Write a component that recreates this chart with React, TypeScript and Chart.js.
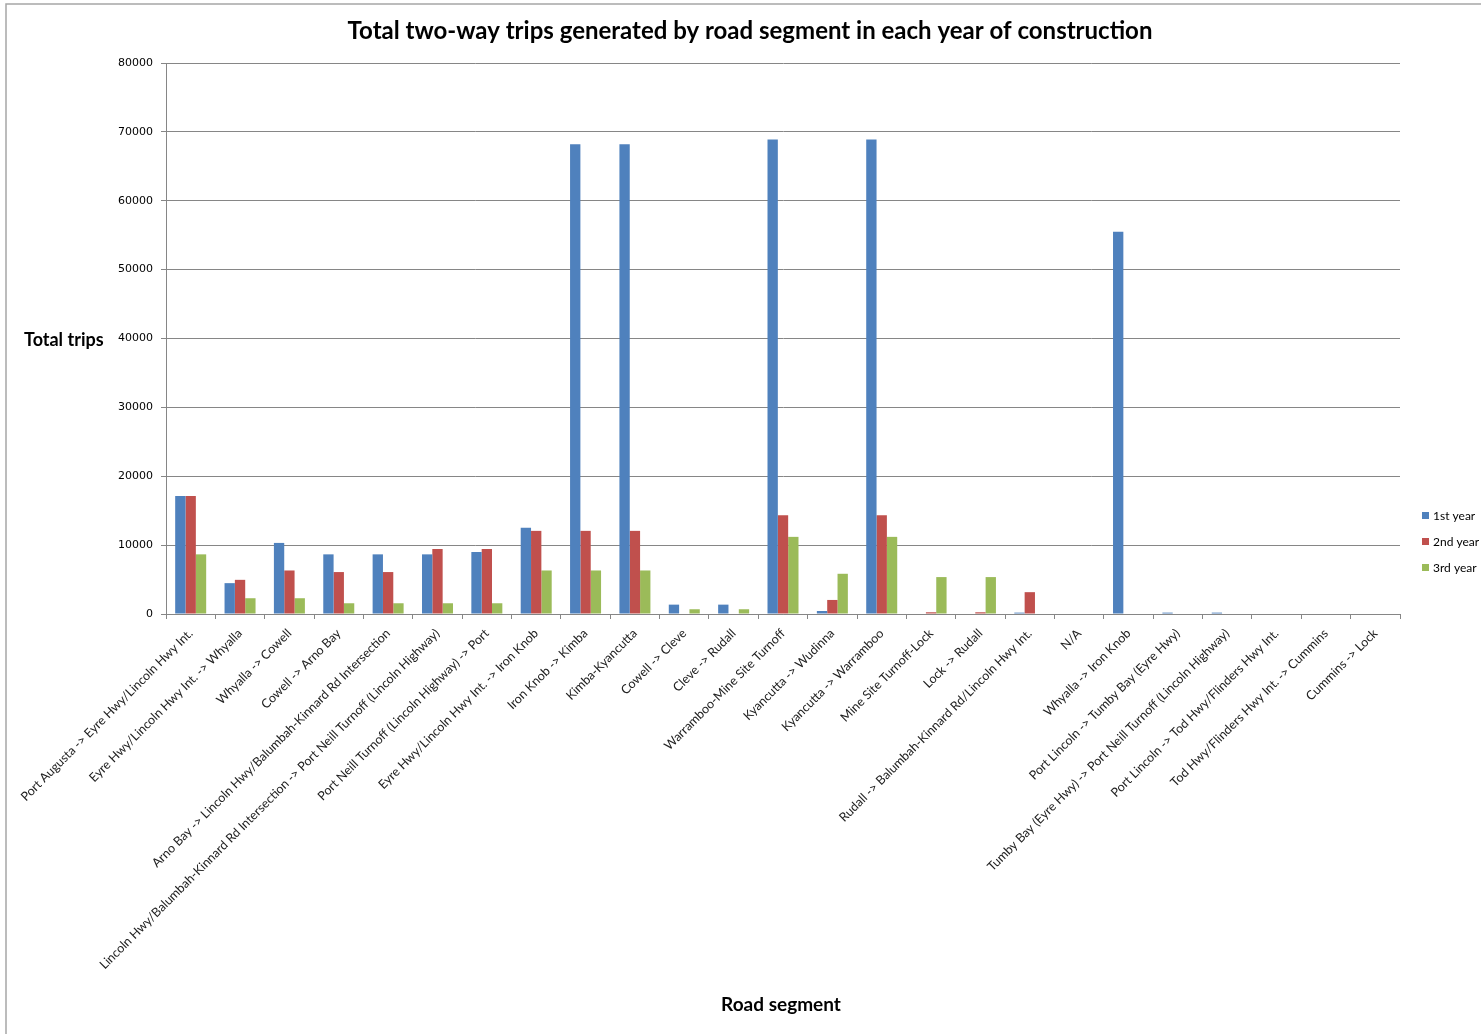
import { useEffect, useRef } from "react";
import { Chart, registerables } from "chart.js";

Chart.register(...registerables);

const categories = [
  "Port Augusta -> Eyre Hwy/Lincoln Hwy Int.",
  "Eyre Hwy/Lincoln Hwy Int. -> Whyalla",
  "Whyalla -> Cowell",
  "Cowell -> Arno Bay",
  "Arno Bay -> Lincoln Hwy/Balumbah-Kinnard Rd Intersection",
  "Lincoln Hwy/Balumbah-Kinnard Rd Intersection -> Port Neill Turnoff (Lincoln Highway)",
  "Port Neill Turnoff (Lincoln Highway) -> Port",
  "Eyre Hwy/Lincoln Hwy Int. -> Iron Knob",
  "Iron Knob -> Kimba",
  "Kimba-Kyancutta",
  "Cowell -> Cleve",
  "Cleve -> Rudall",
  "Warramboo-Mine Site Turnoff",
  "Kyancutta -> Wudinna",
  "Kyancutta -> Warramboo",
  "Mine Site Turnoff-Lock",
  "Lock -> Rudall",
  "Rudall -> Balumbah-Kinnard Rd/Lincoln Hwy Int.",
  "N/A",
  "Whyalla -> Iron Knob",
  "Port Lincoln -> Tumby Bay (Eyre Hwy)",
  "Tumby Bay (Eyre Hwy) -> Port Neill Turnoff (Lincoln Highway)",
  "Port Lincoln -> Tod Hwy/Flinders Hwy Int.",
  "Tod Hwy/Flinders Hwy Int. -> Cummins",
  "Cummins -> Lock",
];

const firstYear = [17150, 4480, 10320, 8660, 8660, 8660, 9000, 12510, 68200, 68200, 1360, 1360, 68900, 440, 68900, 0, 0, 200, 0, 55500, 200, 200, 0, 0, 0];
const secondYear = [17150, 4960, 6320, 6090, 6090, 9440, 9440, 12070, 12070, 12070, 0, 0, 14350, 2040, 14350, 250, 250, 3170, 0, 0, 0, 0, 0, 0, 0];
const thirdYear = [8660, 2290, 2290, 1560, 1560, 1560, 1560, 6320, 6320, 6320, 690, 690, 11200, 5840, 11200, 5360, 5360, 0, 0, 0, 0, 0, 0, 0, 0];

const seriesNames = ["1st year", "2nd year", "3rd year"];
const seriesColors = ["#4F81BD", "#C0504D", "#9BBB59"];

const chartTitle = "Total two-way trips generated by road segment in each year of construction";
const yTitle = "Total trips";
const xTitle = "Road segment";

const W = 1481;
const H = 1034;

const decorPlugin = {
  id: "decor",
  afterDraw(chart: any) {
    const ctx = chart.ctx as CanvasRenderingContext2D;
    ctx.save();
    // outer border
    ctx.strokeStyle = "#a6a6a6";
    ctx.lineWidth = 1.5;
    ctx.strokeRect(6, 4, W + 20, H + 20);
    // title
    ctx.fillStyle = "#000";
    ctx.textBaseline = "middle";
    ctx.textAlign = "center";
    ctx.font = "bold 24px Lato";
    ctx.fillText(chartTitle, 750, 31);
    // y title (horizontal)
    ctx.font = "bold 18px Lato";
    ctx.textAlign = "left";
    ctx.fillText(yTitle, 24, 340);
    // x title
    ctx.textAlign = "center";
    ctx.font = "bold 19px Lato";
    ctx.fillText(xTitle, 781, 1005);
    // legend
    ctx.font = "12px Lato";
    ctx.textAlign = "left";
    chart.data.datasets.forEach((ds: any, i: number) => {
      const y = 516 + i * 26;
      ctx.fillStyle = ds.backgroundColor;
      ctx.fillRect(1422, y - 4, 7, 7);
      ctx.fillStyle = "#000";
      ctx.fillText(ds.label, 1433, y);
    });
    ctx.restore();
  },
};

export default function App() {
  const ref = useRef<HTMLCanvasElement | null>(null);
  useEffect(() => {
    if (!ref.current) return;
    const chart = new Chart(ref.current, {
      type: "bar",
      data: {
        labels: categories,
        datasets: [firstYear, secondYear, thirdYear].map((d, i) => ({
          label: seriesNames[i],
          data: d,
          backgroundColor: seriesColors[i],
          borderWidth: 0,
          categoryPercentage: 0.628,
          barPercentage: 1.0,
        })),
      },
      options: {
        responsive: false,
        animation: false,
        layout: { padding: { top: 63, right: 81, left: 0, bottom: 0 } },
        plugins: {
          legend: { display: false },
          title: { display: false },
          tooltip: { enabled: false },
        },
        scales: {
          x: {
            offset: true,
            grid: {
              display: true,
              drawOnChartArea: false,
              drawTicks: true,
              tickLength: 5,
              color: "#868686",
              offset: true,
            },
            border: { display: true, color: "#868686" },
            ticks: {
              autoSkip: false,
              maxRotation: 45,
              minRotation: 45,
              color: "#222",
              padding: 7,
              font: { family: "Lato", size: 12.5 },
            },
            afterFit: (s: any) => {
              s.height = H - 614;
            },
          },
          y: {
            min: 0,
            max: 80000,
            ticks: {
              stepSize: 10000,
              color: "#000",
              padding: 8,
              font: { family: "DejaVu Sans", size: 11 },
              callback: (v: any) => String(v),
            },
            grid: {
              color: "#868686",
              tickLength: 5,
            },
            border: { display: true, color: "#868686" },
            afterFit: (s: any) => {
              s.width = 166;
            },
          },
        },
      },
      plugins: [decorPlugin],
    });
    return () => chart.destroy();
  }, []);
  return (
    <div style={{ position: "absolute", left: 0, top: 0, width: W, height: H, overflow: "hidden", background: "#fff" }}>
      <canvas ref={ref} width={W} height={H} style={{ display: "block" }} />
    </div>
  );
}
